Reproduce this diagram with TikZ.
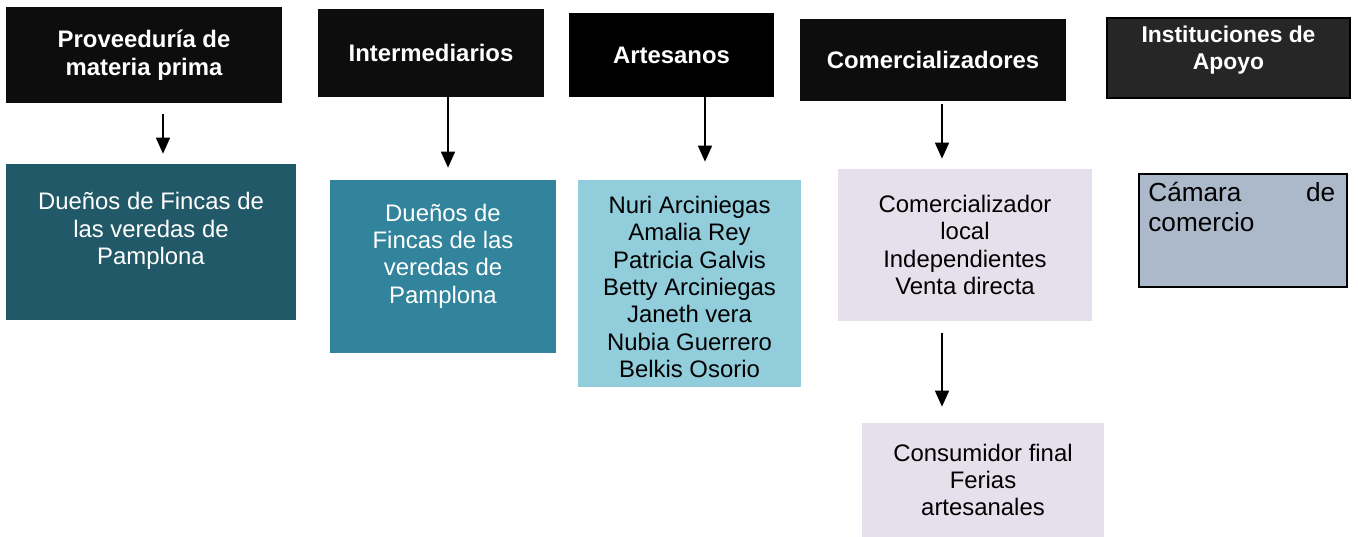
\documentclass[tikz,border=0pt]{standalone}
\usepackage{fontspec}
\setmainfont{Liberation Sans}
\usetikzlibrary{positioning,arrows.meta}

\definecolor{hdblack}{RGB}{13,13,13}
\definecolor{hdgray}{RGB}{38,38,38}
\definecolor{tealdark}{RGB}{33,89,104}
\definecolor{tealmid}{RGB}{49,132,155}
\definecolor{teallight}{RGB}{146,205,220}
\definecolor{lavender}{RGB}{229,224,236}
\definecolor{slate}{RGB}{172,185,202}

\begin{document}
\begin{tikzpicture}[x=0.02cm,y=-0.02cm,
    head/.style={rectangle, fill=hdblack, text=white, align=center, inner sep=0pt,
        font=\bfseries\fontsize{13.6}{16}\selectfont},
    box/.style={rectangle, inner sep=0pt, align=center,
        font=\fontsize{13.6}{15.6}\selectfont},
    arr/.style={-{Triangle[length=0.32cm,width=0.28cm]}, line width=0.85pt}]
    \useasboundingbox (0,0) rectangle (1358,537);

    % headers
    \node[head, minimum width=5.52cm, minimum height=1.92cm] (prov) at (144,55) {Proveeduría de\\materia prima};
    \node[head, minimum width=4.52cm, minimum height=1.76cm] (inter) at (431,53) {Intermediarios};
    \node[head, fill=black, minimum width=4.10cm, minimum height=1.68cm] (arte) at (671.5,55) {Artesanos};
    \node[head, minimum width=5.32cm, minimum height=1.64cm] (comer) at (933,60) {Comercializadores};
    \node[head, fill=hdgray, draw=black, line width=1.1pt, minimum width=4.86cm, minimum height=1.60cm] (inst) at (1228.5,58) {};
    \node[head, fill=none, font=\bfseries\fontsize{13}{15.5}\selectfont] (insttxt) at (1228.5,50) {Instituciones de\\Apoyo};

    % actors
    \node[box, fill=tealdark, minimum width=5.80cm, minimum height=3.12cm] (duen1) at (151,242) {};
    \node[box, text=white] (duen1txt) at (151,231) {Dueños de Fincas de\\las veredas de\\Pamplona};
    \node[box, fill=tealmid, minimum width=4.52cm, minimum height=3.46cm] (duen2) at (443,266.5) {};
    \node[box, text=white] (duen2txt) at (443,256) {Dueños de\\Fincas de las\\veredas de\\Pamplona};
    \node[box, fill=teallight, minimum width=4.46cm, minimum height=4.14cm] (artnames) at (689.5,283.5) {};
    \node[box] (artnamestxt) at (689.5,287)
        {Nuri Arciniegas\\Amalia Rey\\Patricia Galvis\\Betty Arciniegas\\Janeth vera\\Nubia Guerrero\\Belkis Osorio};
    \node[box, fill=lavender, minimum width=5.08cm, minimum height=3.04cm] (local) at (965,245)
        {Comercializador\\local\\Independientes\\Venta directa};
    \node[box, fill=lavender, minimum width=4.84cm, minimum height=2.28cm] (final) at (983,480)
        {Consumidor final\\Ferias\\artesanales};
    \node[box, fill=slate, draw=black, line width=0.85pt, minimum width=4.16cm, minimum height=2.26cm] (cam) at (1243,230.5) {};
    \node[box, anchor=north west, text width=3.74cm, align=left, font=\fontsize{14.9}{17}\selectfont] (camtxt) at (1148,182)
        {Cámara\hfill de\\comercio};

    % arrows
    \coordinate (a1) at (163,0);
    \coordinate (a2) at (448,0);
    \coordinate (a3) at (705,0);
    \coordinate (a4) at (942,0);
    \draw[arr, shorten <=0.22cm, shorten >=0.2cm] (prov.south -| a1) -- (duen1.north -| a1);
    \draw[arr, shorten >=0.24cm] (inter.south -| a2) -- (duen2.north -| a2);
    \draw[arr, shorten >=0.36cm] (arte.south -| a3) -- (artnames.north -| a3);
    \draw[arr, shorten <=0.06cm, shorten >=0.2cm] (comer.south -| a4) -- (local.north -| a4);
    \draw[arr, shorten <=0.24cm, shorten >=0.32cm] (local.south -| a4) -- (final.north -| a4);
\end{tikzpicture}
\end{document}
